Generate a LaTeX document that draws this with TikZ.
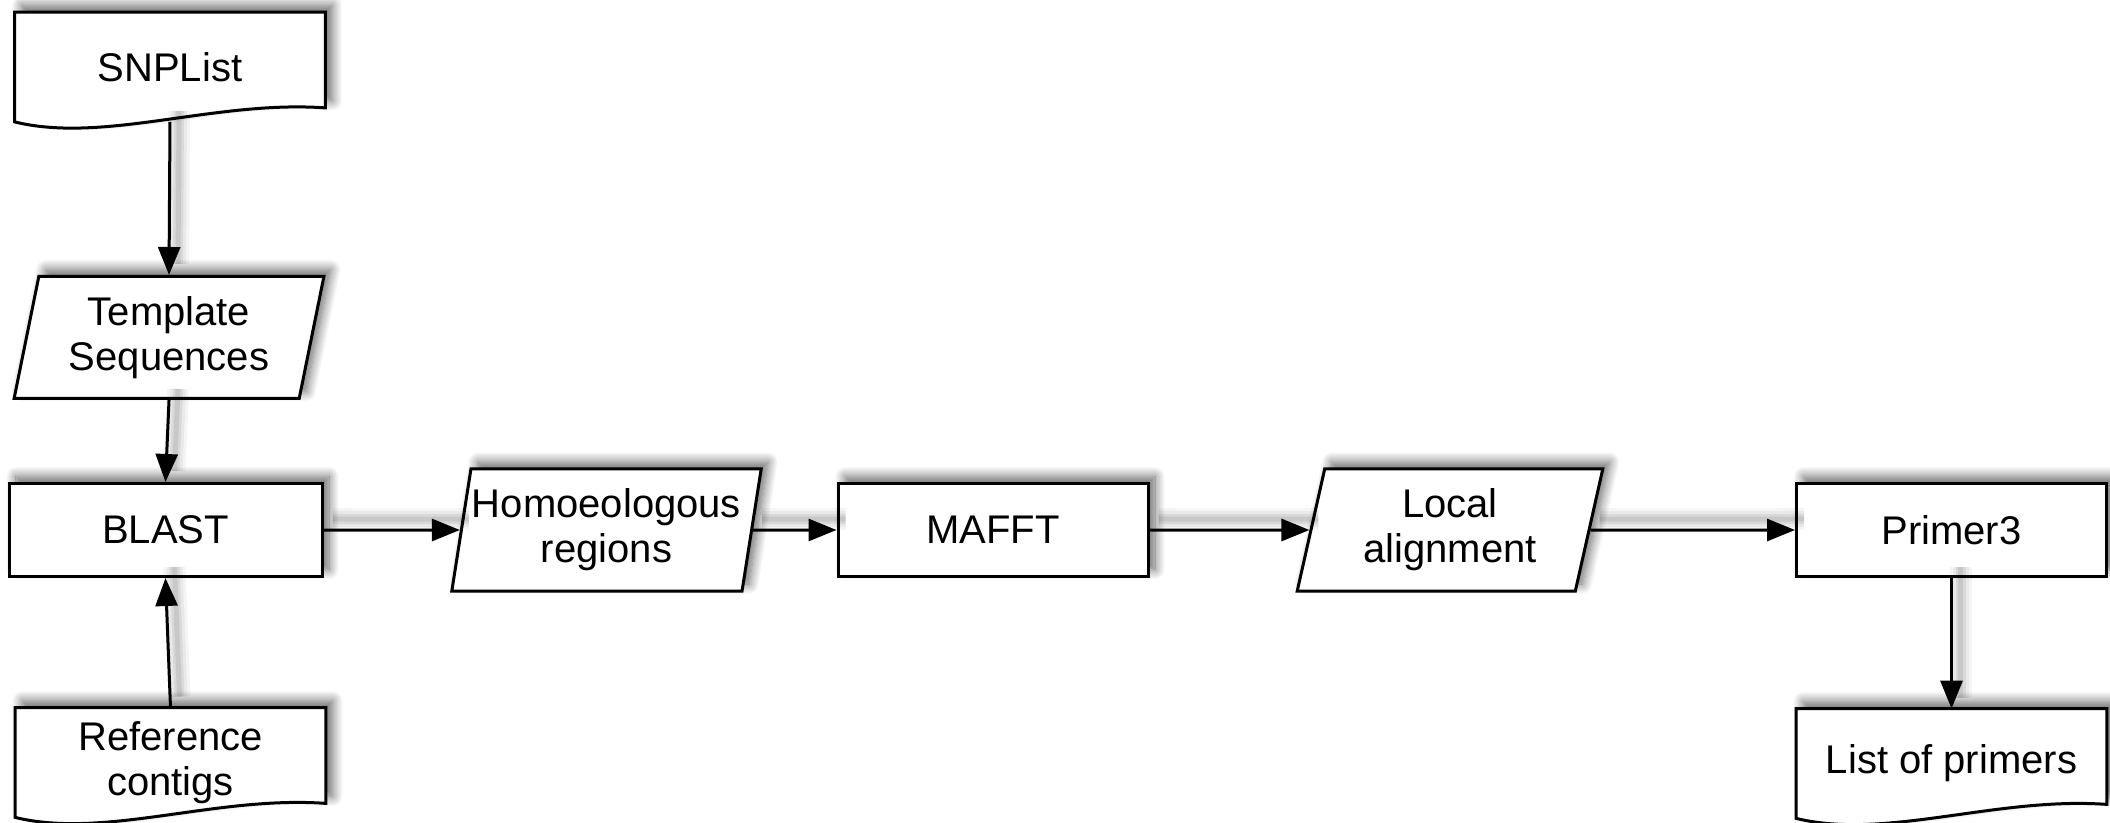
\documentclass[tikz,border=0pt]{standalone}
\usepackage{fontspec}
\setmainfont{Liberation Sans}
\usetikzlibrary{shapes.geometric,arrows.meta,calc,shadows.blur}
\pgfdeclarelayer{links}
\pgfdeclarelayer{docs}
\pgfsetlayers{docs,main,links}

\tikzset{
  softshade/.style={blur shadow={shadow xshift=3.5pt, shadow yshift=3.5pt,
      shadow blur radius=5pt, shadow blur steps=12, shadow opacity=60}},
  labelfont/.style={font=\fontsize{20}{22.5}\selectfont, align=center},
  box/.style={draw, line width=1.5pt, fill=white, inner sep=0pt, labelfont, softshade},
  procbox/.style={box, rectangle, minimum width=155pt, minimum height=46.5pt},
  databox/.style={box, trapezium, trapezium left angle=77, trapezium right angle=103,
      trapezium stretches=true, minimum width=155pt, minimum height=61pt},
  doctext/.style={rectangle, inner sep=0pt, labelfont, minimum width=155pt, minimum height=54.5pt},
  docshape/.style={draw, line width=1.5pt, fill=white, softshade},
  linkshade/.style={draw=black, opacity=#1, transform canvas={shift={(4.5pt,5.5pt)}}},
  link/.style={line width=1.5pt, draw=black, -{Triangle[length=14pt,width=11pt,fill=black]},
      preaction={linkshade=0.04, line width=11pt, arrows=-},
      preaction={linkshade=0.05, line width=8pt, arrows=-},
      preaction={linkshade=0.07, line width=5pt, arrows=-},
      preaction={linkshade=0.08, line width=2.5pt, arrows=-}},
}

% document symbol: flat top, wavy bottom
\newcommand\docoutline[1]{%
  \draw[docshape] (#1.north west) -- (#1.north east) -- ($(#1.south east)+(0,-14)$)
    .. controls ($(#1.south west)+(200,-22)$) and ($(#1.south west)+(90,22)$) .. (#1.south west) -- cycle;}

\begin{document}
\begin{tikzpicture}[x=0.5pt, y=-0.5pt]
\useasboundingbox (0,0) rectangle (2110,823);

% inputs and outputs
\node[doctext] (snp) at (170,67) {SNPList};
\node[doctext] (ref) at (170.5,762.5) {Reference\\contigs};
\node[doctext] (list) at (1951.5,763.5) {List of primers};

% processing chain
\node[databox] (tmpl) at (169,337.5) {Template\\Sequences};
\node[procbox, minimum width=156.5pt] (blast) at (165.5,530) {BLAST};
\node[databox] (homo) at (606.5,530) {Homoeologous\\regions};
\node[procbox] (mafft) at (993,530) {MAFFT};
\node[databox, minimum width=153pt] (local) at (1450,530) {Local\\alignment};
\node[procbox] (primer) at (1951.5,530) {Primer3};

\begin{pgfonlayer}{docs}
  \docoutline{snp}
  \docoutline{ref}
  \docoutline{list}
\end{pgfonlayer}

\begin{pgfonlayer}{links}
  \draw[link] (snp.south) -- (tmpl.north);
  \draw[link] (tmpl.south) -- (blast.north);
  \draw[link] (ref.north) -- (blast.south);
  \draw[link] (blast.east) -- (homo.west);
  \draw[link] (homo.east) -- (mafft.west);
  \draw[link] (mafft.east) -- (local.west);
  \draw[link] (local.east) -- (primer.west);
  \draw[link] (primer.south) -- (list.north);
\end{pgfonlayer}
\end{tikzpicture}
\end{document}
